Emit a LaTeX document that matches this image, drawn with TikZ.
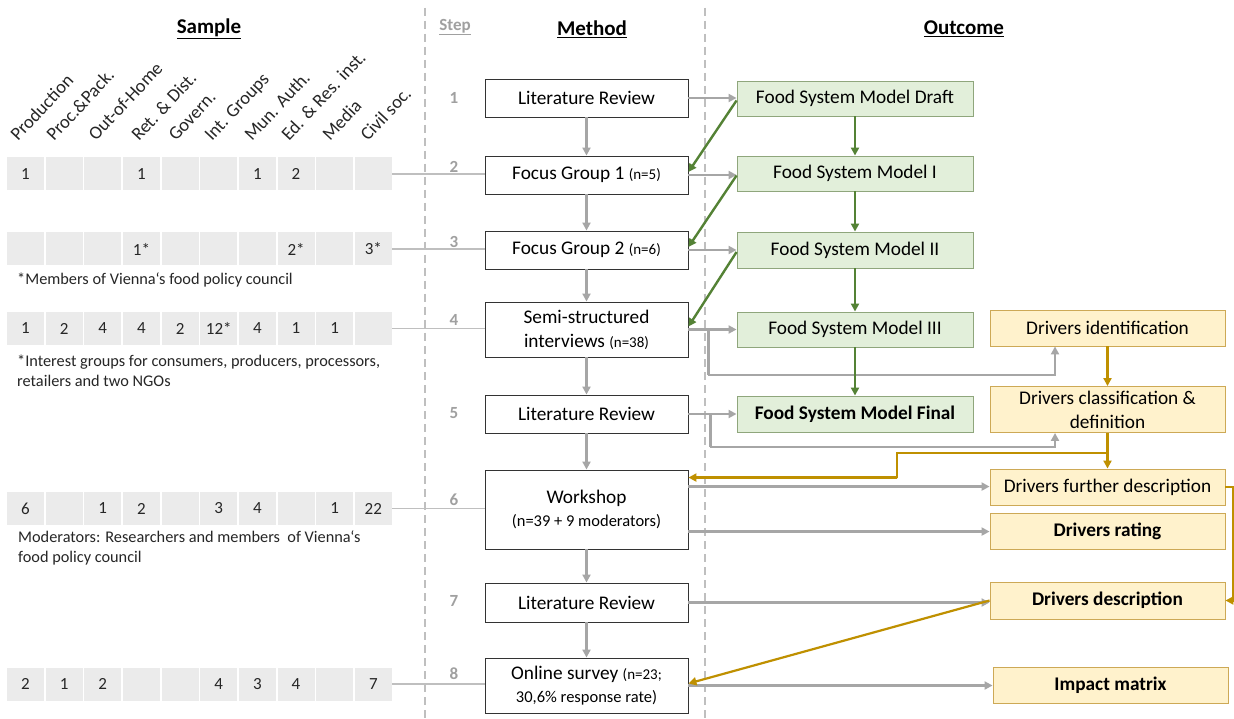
\documentclass[tikz,border=0pt]{standalone}
\usepackage{fontspec}
\setmainfont{Carlito}
\usetikzlibrary{arrows.meta,calc}
\definecolor{arrgray}{HTML}{A6A6A6}
\definecolor{thingray}{HTML}{BFBFBF}
\definecolor{cellgray}{HTML}{EBEBEB}
\definecolor{stepgray}{HTML}{A0A0A0}
\definecolor{grarr}{HTML}{548235}
\definecolor{gfill}{HTML}{E2EFDA}
\definecolor{gborder}{HTML}{8FA67C}
\definecolor{ofill}{HTML}{FFF2CC}
\definecolor{oborder}{HTML}{CDA956}
\definecolor{orarr}{HTML}{BF9000}
\newcommand{\smalln}[1]{{\fontsize{15}{17}\selectfont #1}}
\tikzset{
  mbox/.style={draw=black!80, fill=white, line width=0.9pt, minimum width=203, align=center, inner sep=0, font=\fontsize{19.3}{24}\selectfont},
  gbox/.style={draw=gborder, fill=gfill, line width=0.9pt, minimum width=236, minimum height=35, inner sep=0, font=\fontsize{19.3}{22}\selectfont},
  obox/.style={draw=oborder, fill=ofill, line width=0.9pt, minimum width=235, inner sep=0, align=center, font=\fontsize{19.3}{24}\selectfont},
  cell/.style={fill=cellgray, minimum width=37, minimum height=33, inner sep=0},
  num/.style={font=\fontsize{17}{19}\selectfont, text=black!85},
  note/.style={anchor=west, align=left, inner sep=0, font=\fontsize{16.3}{20}\selectfont, text=black!85},
  collab/.style={rotate=47, anchor=base west, inner sep=0, font=\fontsize{18.5}{20}\selectfont, text=black!85},
  stepnum/.style={font=\bfseries\fontsize{17}{19}\selectfont, text=stepgray},
  header/.style={font=\bfseries\fontsize{21}{23}\selectfont},
  garrow/.style={draw=arrgray, line width=2.4pt, -{Triangle[length=8pt,width=8pt]}},
  tline/.style={draw=thingray, line width=1.4pt},
  grarrow/.style={draw=grarr, line width=2.4pt, -{Triangle[length=8pt,width=8pt]}},
  orarrow/.style={draw=orarr, line width=2.2pt, -{Triangle[length=8pt,width=8pt]}},
  dline/.style={draw=thingray, line width=1.8pt, dash pattern=on 8pt off 5pt}
}
\begin{document}
\begin{tikzpicture}[x=1pt,y=-1pt]
\useasboundingbox (0,0) rectangle (1234,719);
\fill[white] (0,0) rectangle (1234,719);

% dashed separators
\coordinate (d1t) at (425,8); \coordinate (d1b) at (425,719);
\coordinate (d2t) at (705,8); \coordinate (d2b) at (705,719);
\draw[dline] (d1t) -- (d1b);
\draw[dline] (d2t) -- (d2b);

% headers
\node[header] (hsample) at (209,29) {\underline{Sample}};
\node[font=\bfseries\fontsize{17}{19}\selectfont, text=stepgray] (hstep) at (455,27) {\underline{Step}};
\node[header] (hmethod) at (592,29) {\underline{Method}};
\node[header] (houtcome) at (964,29) {\underline{Outcome}};

% column labels
\node[collab] (l1) at (18,142) {Production};
\node[collab] (l2) at (54,142) {Proc.\&Pack.};
\node[collab] (l3) at (96,142) {Out-of-Home};
\node[collab] (l4) at (139,142) {Ret. \& Dist.};
\node[collab] (l5) at (176,142) {Govern.};
\node[collab] (l6) at (212,142) {Int. Groups};
\node[collab] (l7) at (252,142) {Mun. Auth.};
\node[collab] (l8) at (289,142) {Ed. \& Res. inst.};
\node[collab] (l9) at (330,142) {Media};
\node[collab] (l10) at (368,142) {Civil soc.};

% table cells
\foreach \r/\yy in {1/174,2/249,3/328.5,4/508.5,5/684}{
  \foreach \c in {1,...,10}{
    \node[cell] (c\r-\c) at ({25.5+38.65*(\c-1)},\yy) {};
  }
}
\foreach \c/\t in {1/1,4/1,7/1,8/2}{\node[num] at (c1-\c) {\t};}
\foreach \c/\t in {4/1*,8/2*,10/3*}{\node[num] at (c2-\c) {\t};}
\foreach \c/\t in {1/1,2/2,3/4,4/4,5/2,6/12*,7/4,8/1,9/1}{\node[num] at (c3-\c) {\t};}
\foreach \c/\t in {1/6,3/1,4/2,6/3,7/4,9/1,10/22}{\node[num] at (c4-\c) {\t};}
\foreach \c/\t in {1/2,2/1,3/2,6/4,7/3,8/4,10/7}{\node[num] at (c5-\c) {\t};}

% notes
\node[note] (n1) at (17,280) {*Members of Vienna‘s food policy council};
\node[note] (n2) at (17,371) {*Interest groups for consumers, producers, processors,\\retailers and two NGOs};
\node[note] (n3) at (18,548) {Moderators: Researchers and members\ \ of Vienna‘s\\food policy council};

% step numbers
\node[stepnum] (s1) at (454,98) {1};
\node[stepnum] (s2) at (454,167) {2};
\node[stepnum] (s3) at (454,242) {3};
\node[stepnum] (s4) at (454,320) {4};
\node[stepnum] (s5) at (454,413) {5};
\node[stepnum] (s6) at (454,500) {6};
\node[stepnum] (s7) at (454,601) {7};
\node[stepnum] (s8) at (454,674) {8};

% method boxes
\node[mbox, minimum height=38] (m1) at (586.5,98) {Literature Review};
\node[mbox, minimum height=38] (m2) at (586.5,175) {Focus Group 1 \smalln{(n=5)}};
\node[mbox, minimum height=38] (m3) at (586.5,250) {Focus Group 2 \smalln{(n=6)}};
\node[mbox, minimum height=55] (m4) at (586.5,329.5) {Semi-structured\\interviews \smalln{(n=38)}};
\node[mbox, minimum height=38] (m5) at (586.5,414) {Literature Review};
\node[mbox, minimum height=79] (m6) at (586.5,509.5) {Workshop\\[-1pt]{\fontsize{16.5}{19}\selectfont (n=39 + 9 moderators)}};
\node[mbox, minimum height=39] (m7) at (586.5,602.5) {Literature Review};
\node[mbox, minimum height=55, font=\fontsize{19.3}{23}\selectfont] (m8) at (586.5,685.5) {Online survey \smalln{(n=23;}\\{\fontsize{16.5}{19}\selectfont 30,6\% response rate)}};

% green boxes
\node[gbox] (g0) at (855,98.5) {Food System Model Draft};
\node[gbox] (g1) at (855,173.5) {Food System Model I};
\node[gbox, minimum height=36] (g2) at (855,250) {Food System Model II};
\node[gbox] (g3) at (855,329.5) {Food System Model III};
\node[gbox, minimum height=36, font=\bfseries\fontsize{19.3}{22}\selectfont] (g4) at (855,414) {Food System Model Final};

% orange boxes
\node[obox, minimum height=36] (o1) at (1107.5,328) {Drivers identification};
\node[obox, minimum height=46, font=\fontsize{19.3}{24}\selectfont] (o2) at (1107.5,409.5) {Drivers classification \&\\definition};
\node[obox, minimum height=36] (o3) at (1107.5,487) {Drivers further description};
\node[obox, minimum height=36, font=\bfseries\fontsize{19.3}{22}\selectfont] (o4) at (1107.5,531) {Drivers rating};
\node[obox, minimum height=37, font=\bfseries\fontsize{19.3}{22}\selectfont] (o5) at (1107.5,600.5) {Drivers description};
\node[obox, minimum height=36, font=\bfseries\fontsize{19.3}{22}\selectfont] (o6) at (1110.5,685) {Impact matrix};

% table to method connectors
\draw[tline] (c1-10.east) -- (c1-10.east -| m2.west);
\draw[tline] (c2-10.east) -- (c2-10.east -| m3.west);
\draw[tline] (c3-10.east) -- (c3-10.east -| m4.west);
\draw[tline] (c4-10.east) -- (c4-10.east -| m6.west);
\draw[tline] (c5-10.east) -- (c5-10.east -| m8.west);

% method vertical arrows
\draw[garrow] (m1) -- (m2);
\draw[garrow] (m2) -- (m3);
\draw[garrow] (m3) -- (m4);
\draw[garrow] (m4) -- (m5);
\draw[garrow] (m5) -- (m6);
\draw[garrow] (m6) -- (m7);
\draw[garrow] (m7) -- (m8);

% method to outcome arrows
\draw[garrow] (m1.east) -- (m1.east -| g0.west);
\draw[garrow] (m2.east) -- (m2.east -| g1.west);
\draw[garrow] (m3.east) -- (m3.east -| g2.west);
\draw[garrow] (m4.east) -- (m4.east -| g3.west);
\draw[garrow] (m5.east) -- (m5.east -| g4.west);
\coordinate (b4) at ($(m4.east)+(20,0)$);
\coordinate (k4) at (708,375);
\draw[garrow] (b4) |- (k4) -| ([xshift=-52.5pt]o1.south);
\coordinate (b5) at ($(m5.east)+(22,0)$);
\coordinate (k5) at (710,447);
\draw[garrow] (b5) |- (k5) -| ([xshift=-52.5pt]o2.south);
\coordinate (w1) at ([yshift=-17pt]m6.north east);
\coordinate (w2) at ([yshift=-62pt]m6.north east);
\draw[garrow] (w1) -- (w1 -| o3.west);
\draw[garrow] (w2) -- (w2 -| o4.west);
\draw[garrow] (m7.east) -- (m7.east -| o5.west);
\draw[garrow] (m8.east) -- (m8.east -| o6.west);

% green model arrows
\draw[grarrow] (g0) -- (g1);
\draw[grarrow] (g1) -- (g2);
\draw[grarrow] (g2) -- (g3);
\draw[grarrow] (g3) -- (g4);
\draw[grarrow] ([yshift=-2pt]g0.west) -- ([yshift=3pt]m2.east);
\draw[grarrow] ([yshift=-2pt]g1.west) -- ([yshift=3pt]m3.east);
\draw[grarrow] ([yshift=-2pt]g2.west) -- ([yshift=3pt]m4.east);

% orange driver arrows
\draw[orarrow] (o1) -- (o2);
\draw[orarrow] (o2) -- (o3);
\coordinate (j) at (1107.5,453);
\coordinate (kx) at (897,478);
\coordinate (wt) at ([yshift=-8pt]m6.north east);
\draw[orarrow] (j) -| (kx) |- (wt);
\draw[orarrow] (o3.east) -- ++(8,0) |- (o5.east);
\draw[orarrow] (o5.west) -- ([yshift=2pt]m8.east);
\end{tikzpicture}
\end{document}
